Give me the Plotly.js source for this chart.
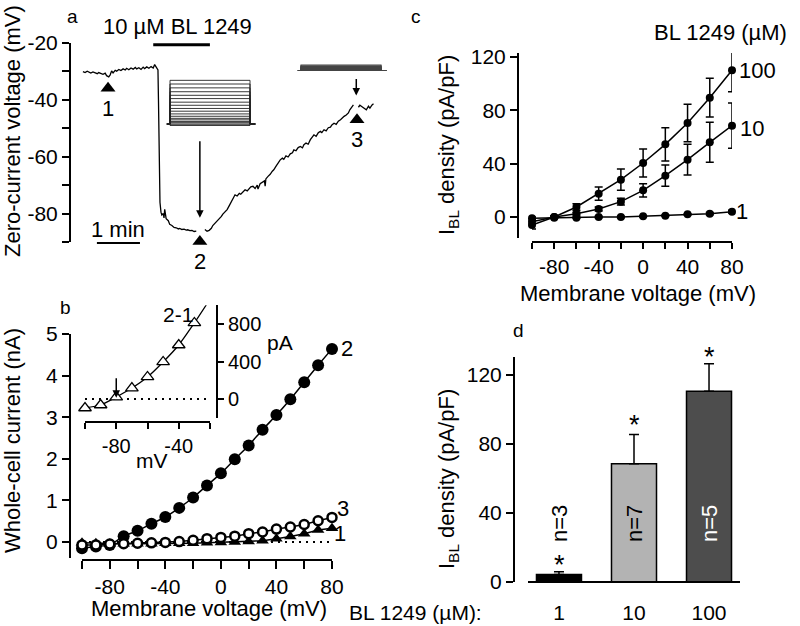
<!DOCTYPE html>
<html><head><meta charset="utf-8">
<script src="https://cdn.plot.ly/plotly-3.0.1.min.js"></script>
<style>html,body{margin:0;padding:0;background:#fff}#g{width:800px;height:626px}</style>
</head><body><div id="g"></div>
<script>
// ---------- Panel a : zero-current voltage trace (time in s, voltage in mV) ----------
const tA = [0,3,6,8,11,14,17,20,22,25,28,31,33,36,38,40,42,45,47,50,53,56,59,61,64,67,70,73,75,78,81,84,86,89,92,95,98,100,103,
  104.6,105.3,106,106.7,107.4,108.8,110,112,113,114,116,
  119,121,124,127,130,133,135,138,141,144,146,149,152,155,158,
  160,
  170,173,176,179,181,184,187,190,193,195,198,201,204,207,209,212,215,218,220,223,226,229,232,234,237,240,243,
  244,247,250,253,254,255,
  258,261,264,266,269,272,275,278,280,283,286,289,292,294,297,300,303,306,308,311,314,317,319,322,325,328,331,333,336,339,342,345,347,350,353,356,359,361,364,367,370,372,375,
  377,
  379,
  384,386,389,392,395,398,400,403,405];
const vA = [-30.1,-30.4,-29.9,-30.3,-30.6,-30.2,-30.5,-30.8,-30.4,-30.7,-31.0,-30.6,-31.5,-31.9,
  -31.2,-29.8,-30.5,
  -29.6,-29.9,-29.3,-29.7,-29.1,-29.5,-28.9,-29.4,-28.8,-29.2,-28.6,-29.1,-28.7,-29.3,-28.5,-29.0,-28.4,-28.9,-28.3,-28.8,-27.6,-29.0,
  -29.5,-40,-55,-68,-76,-79.5,-80.5,-80,-81.5,-78.5,-81.8,
  -82.5,-83.8,-84.2,-84.9,-85.0,-85.4,-85.2,-85.6,-85.5,-85.8,-85.7,-86.0,-85.9,-86.3,-86.2,
  null,
  -85.6,-86.2,-85.9,-85.2,-84.2,-83.4,-82.7,-82.0,-81.0,-80.2,-79.5,-78.6,-77.2,-75.8,-74.8,-73.4,-73.8,-72.9,-73.2,-72.3,-71.6,-72.0,-71.1,-70.6,-70.4,-71.2,-70.0,
  -71.4,-69.5,-68.9,-68.5,-70.4,-67.8,
  -66.9,-66.2,-65.1,-64.6,-63.4,-62.1,-61.1,-60.5,-60.9,-59.7,-60.1,-59.0,-58.6,-57.6,-57.9,-56.8,-56.4,-56.9,-55.8,-55.2,-55.6,-54.0,-53.4,-52.3,-52.8,-51.6,-51.1,-51.5,-50.5,-50.9,-49.8,-49.6,-48.8,-48.2,-48.6,-47.5,-47.0,-46.4,-45.8,-45.3,-44.6,-43.5,-42.6,
  -41.8,
  null,
  -42.6,-41.9,-42.4,-43.1,-43.5,-42.2,-42.9,-41.8,-41.4];
const drugT = [98, 177];          // 10 uM BL 1249 application (s)
const drugV = [-20.6, -20.6];
const markT = [35, 163, 382];     // time points 1, 2, 3
const markV = [-35.9, -89.8, -47];
const markLbl = ['1', '2', '3'];
const scaleT = [19.5, 79.5];      // 1 min scale bar
const protoT = [-18, 0, 0, 470, 470, 500];   // voltage-step protocol timing (ms) for raw-trace insets

// ---------- Panel b : whole-cell I-V (mV, nA) ----------
const vB = [-100,-90,-80,-70,-60,-50,-40,-30,-20,-10,0,10,20,30,40,50,60,70,80];
const iB2 = [-0.15,-0.11,-0.07,0.14,0.27,0.44,0.6,0.82,1.07,1.36,1.65,1.99,2.32,2.7,3.05,3.43,3.84,4.25,4.64];
const iB1 = [-0.02,-0.03,-0.04,-0.04,-0.04,-0.04,-0.03,-0.03,-0.03,-0.02,-0.01,0.0,0.01,0.03,0.08,0.13,0.2,0.29,0.33];
const iB3 = [-0.07,-0.07,-0.05,-0.04,-0.03,-0.02,-0.01,0.01,0.04,0.08,0.11,0.14,0.2,0.24,0.31,0.36,0.42,0.51,0.59];
const zeroB = [-100, 80];
// inset: 2-1 difference current (mV, pA)
const vIn = [-100,-90,-80,-70,-60,-50,-40,-30];
const iIn = [-96,-64,21,117,235,395,576,811];
const fitEndV = -22.4, fitEndI = 1003;
const zeroIn = [-100, -20];

// ---------- Panel c : I_BL density vs voltage (pA/pF) ----------
const vC = [-100,-80,-60,-40,-20,0,20,40,60,80];
const c100 = [-6,0,7.5,17.5,28,40.5,54.5,70.5,89.5,110];
const e100 = [3,1,2.5,5,8,10.5,12.5,14,14.5,16];
const c10 = [-3.5,0,2.5,6,11.5,20,31,43,56,68.5];
const e10 = [2,0.5,1,1.5,2.5,5,8,11.5,15,17];
const c1 = [-1,-0.5,-0.5,0,0,0.5,1,2,2.5,4];
const e1 = [1,0.5,0.5,0.5,0.5,0.5,0.5,0.5,0.8,1];
const concLbl = ['100','10','1'];

// ---------- Panel d : bar chart ----------
const concD = ['1','10','100'];
const dVal = [4.4, 68.5, 110.5];
const dErr = [1.6, 17, 16];
const dN = ['n=3','n=7','n=5'];
const dColors = ['#000000','#b3b3b3','#4d4d4d'];

// ---------- layout helpers (pixel -> paper) ----------
const W = 800, H = 626;
const X = p => p / W, Y = p => 1 - p / H;
const FONT = 'Liberation Sans, Arial, sans-serif';
const TS = 21, TT = 22;   // tick / title font sizes
const tickFont = {family: FONT, size: TS, color: '#000'};

function axBase(extra) {
  return Object.assign({showgrid:false, zeroline:false, showline:true, linewidth:2, linecolor:'#000',
    ticks:'outside', ticklen:7, tickwidth:2, tickcolor:'#000', tickfont:tickFont, anchor:'free', fixedrange:true}, extra);
}

const traces = [];
// Panel a trace
traces.push({x:tA, y:vA, xaxis:'x', yaxis:'y', mode:'lines', line:{color:'#000', width:1.3}, connectgaps:false});
traces.push({x:drugT, y:drugV, xaxis:'x', yaxis:'y', mode:'lines', line:{color:'#000', width:3}});
traces.push({x:markT, y:markV, xaxis:'x', yaxis:'y', mode:'markers', cliponaxis:false,
  marker:{symbol:'triangle-up', size:13, color:'#000'}});
traces.push({x:scaleT, y:[0.5,0.5], xaxis:'x8', yaxis:'y8', mode:'lines', line:{color:'#000', width:2}});

// raw current insets built from I-V data (state 2 and state 3)
function family(levels) {
  const xs = [], ys = [];
  levels.forEach(I => {
    protoT.forEach((t, k) => { xs.push(t); ys.push(k === 2 || k === 3 ? I : 0); });
    xs.push(null); ys.push(null);
  });
  return {xs, ys};
}
const f2 = family(iB2), f3 = family(iB3);
traces.push({x:f2.xs, y:f2.ys, xaxis:'x2', yaxis:'y2', mode:'lines', line:{color:'#222', width:0.9}});
traces.push({x:f3.xs, y:f3.ys, xaxis:'x3', yaxis:'y3', mode:'lines', line:{color:'#444', width:1.1}});

// Panel b
traces.push({x:zeroB, y:[0,0], xaxis:'x4', yaxis:'y4', mode:'lines', line:{color:'#000', width:2, dash:'2px,5px'}});
traces.push({x:vB, y:iB2, xaxis:'x4', yaxis:'y4', mode:'lines+markers', cliponaxis:false,
  line:{color:'#000', width:1.5, shape:'spline', smoothing:0.6}, marker:{symbol:'circle', size:12, color:'#000'}});
traces.push({x:vB, y:iB1, xaxis:'x4', yaxis:'y4', mode:'lines+markers', cliponaxis:false,
  line:{color:'#000', width:1.5}, marker:{symbol:'triangle-up', size:11, color:'#000'}});
traces.push({x:vB, y:iB3, xaxis:'x4', yaxis:'y4', mode:'lines+markers', cliponaxis:false,
  line:{color:'#000', width:1.5}, marker:{symbol:'circle', size:9, color:'#fff', line:{color:'#000', width:2.5}}});
// inset b
traces.push({x:zeroIn, y:[0,0], xaxis:'x5', yaxis:'y5', mode:'lines', line:{color:'#000', width:2, dash:'2px,5px'}});
traces.push({x:vIn.concat([fitEndV]), y:iIn.concat([fitEndI]), xaxis:'x5', yaxis:'y5', mode:'lines',
  line:{color:'#000', width:1.3, shape:'spline', smoothing:0.6}});
traces.push({x:vIn, y:iIn, xaxis:'x5', yaxis:'y5', mode:'markers', cliponaxis:false,
  marker:{symbol:'triangle-up', size:11, color:'#fff', line:{color:'#000', width:1.3}}});

// Panel c
[[c1,e1],[c10,e10],[c100,e100]].forEach(([v,e]) => {
  traces.push({x:vC, y:v, xaxis:'x6', yaxis:'y6', mode:'lines+markers', cliponaxis:false,
    line:{color:'#000', width:1.5}, marker:{size:8, color:'#000'},
    error_y:{type:'data', array:e, visible:true, color:'#000', thickness:1.5, width:4}});
});

// Panel d
traces.push({type:'bar', x:concD, y:dVal, xaxis:'x7', yaxis:'y7', width:0.6,
  marker:{color:dColors, line:{color:'#000', width:1.5}},
  error_y:{type:'data', symmetric:false, array:dErr, arrayminus:[0,0,0], visible:true, color:'#000', thickness:1.5, width:5}});

const layout = {
  width:W, height:H, margin:{l:0,r:0,t:0,b:0}, showlegend:false, hovermode:false,
  paper_bgcolor:'#fff', plot_bgcolor:'rgba(0,0,0,0)', font:{family:FONT, color:'#000'},
  // panel a
  xaxis:{domain:[X(70),X(390)], range:[-18,428], visible:false, anchor:'y', fixedrange:true},
  yaxis:axBase({domain:[Y(242),Y(43)], range:[-90,-20], position:X(70),
    tickvals:[-90,-80,-70,-60,-50,-40,-30,-20], ticktext:['','-80','','-60','','-40','','-20']}),
  xaxis8:{domain:[X(70),X(390)], range:[-18,428], visible:false, anchor:'y8', fixedrange:true},
  yaxis8:{domain:[Y(253),Y(233)], range:[0,1], visible:false, anchor:'x8', fixedrange:true},
  xaxis2:{domain:[X(165),X(257)], range:[-29.4,511], visible:false, anchor:'y2', fixedrange:true},
  yaxis2:{domain:[Y(130),Y(70)], range:[-0.64,5.74], visible:false, anchor:'x2', fixedrange:true},
  xaxis3:{domain:[X(296),X(388)], range:[-29.4,511], visible:false, anchor:'y3', fixedrange:true},
  yaxis3:{domain:[Y(80),Y(55)], range:[-1.01,1.65], visible:false, anchor:'x3', fixedrange:true},
  // panel b
  xaxis4:axBase({domain:[X(82),X(332)], range:[-100,80], position:Y(560), ticklen:8,
    tickvals:[-100,-80,-60,-40,-20,0,20,40,60,80], ticktext:['','-80','','-40','','0','','40','','80']}),
  yaxis4:axBase({domain:[Y(558),Y(334)], range:[-0.385,5], position:X(70),
    tickvals:[0,1,2,3,4,5], ticktext:['0','1','2','3','4','5']}),
  xaxis5:axBase({domain:[X(85),X(210)], range:[-100,-20], position:Y(422), ticklen:6,
    tickvals:[-100,-80,-60,-40,-20], ticktext:['','-80','','-40',''], tickfont:{family:FONT,size:20,color:'#000'}}),
  yaxis5:axBase({domain:[Y(417.75),Y(305.25)], range:[-200,1000], position:X(217), side:'right', ticklen:6,
    tickvals:[0,400,800], ticktext:['0','400','800'], tickfont:{family:FONT,size:20,color:'#000'}}),
  // panel c
  xaxis6:axBase({domain:[X(532),X(732)], range:[-100,80], position:Y(242), ticklen:6,
    tickvals:[-100,-80,-60,-40,-20,0,20,40,60,80], ticktext:['','-80','','-40','','0','','40','','80']}),
  yaxis6:axBase({domain:[Y(238),Y(53)], range:[-15.75,123], position:X(518),
    tickvals:[0,40,80,120], ticktext:['0','40','80','120']}),
  // panel d
  xaxis7:axBase({domain:[X(528),X(740)], range:[-0.413,2.413], type:'category', categoryarray:concD,
    position:Y(582), ticklen:12, tickcolor:'rgba(0,0,0,0)'}),
  yaxis7:axBase({domain:[Y(582),Y(357)], range:[0,130.4], position:X(514),
    tickvals:[0,40,80,120], ticktext:['0','40','80','120']}),
  annotations:[]
};

const A = layout.annotations;
function txt(text, px, py, size, extra) {
  A.push(Object.assign({text:text, x:X(px), y:Y(py), xref:'paper', yref:'paper', showarrow:false,
    xanchor:'center', yanchor:'middle', font:{family:FONT, size:size, color:'#000'}}, extra || {}));
}
// panel letters
txt('a', 72, 16, 19); txt('b', 65, 307, 19); txt('c', 416, 17, 19); txt('d', 518, 330, 19);
// panel a
txt('Zero-current voltage (mV)', 12, 131, TT, {textangle:-90});
txt('10 \u00B5M BL 1249', 177, 27, TT);
txt('1 min', 118, 229, TT);
markLbl.forEach((s, i) => A.push({text:s, x:markT[i], y:markV[i], xref:'x', yref:'y', showarrow:false,
  yshift:-20, font:{family:FONT, size:TT, color:'#000'}}));
A.push({text:'', x:163, y:-81.5, xref:'x', yref:'y', showarrow:true, ax:0, ay:-78, arrowhead:2, arrowsize:1, arrowwidth:1.5, arrowcolor:'#000', standoff:0});
A.push({text:'', x:381, y:-38.5, xref:'x', yref:'y', showarrow:true, ax:0, ay:-18, arrowhead:2, arrowsize:1, arrowwidth:1.5, arrowcolor:'#000', standoff:0});
// panel b
txt('Whole-cell current (nA)', 12, 441, TT, {textangle:-90});
txt('Membrane voltage (mV)', 209, 608, TT);
txt('2', 347, 348, TT); txt('3', 343, 508, TT); txt('1', 340, 533, TT);
txt('2-1', 178, 314, 21); txt('pA', 280, 342, 21); txt('mV', 152, 460, 21);
A.push({text:'', x:-80, y:12, xref:'x5', yref:'y5', showarrow:true, ax:0, ay:-21, arrowhead:2, arrowsize:1, arrowwidth:1.5, arrowcolor:'#000', standoff:0});
// panel c
txt('I<sub>BL</sub> density (pA/pF)', 448, 145, TT, {textangle:-90});
txt('Membrane voltage (mV)', 638, 293, TT);
txt('BL 1249 (\u00B5M)', 720, 33, TT);
txt(concLbl[0], 757, 70, TT); txt(concLbl[1], 752, 128, TT); txt(concLbl[2], 742, 212, TT);
// panel d
txt('I<sub>BL</sub> density (pA/pF)', 448, 479, TT, {textangle:-90});
txt('BL 1249 (\u00B5M):', 484, 612, 21, {xanchor:'right'});
const dCx = [559, 634, 709];
[565, 425, 357].forEach((py, i) => txt('*', dCx[i], py, 27));
dN.forEach((s, i) => txt(s, dCx[i], 524, TT, {textangle:-90, font:{family:FONT, size:TT, color: i === 2 ? '#fff' : '#000'}}));

Plotly.newPlot('g', traces, layout, {staticPlot:true, displayModeBar:false});
</script></body></html>
